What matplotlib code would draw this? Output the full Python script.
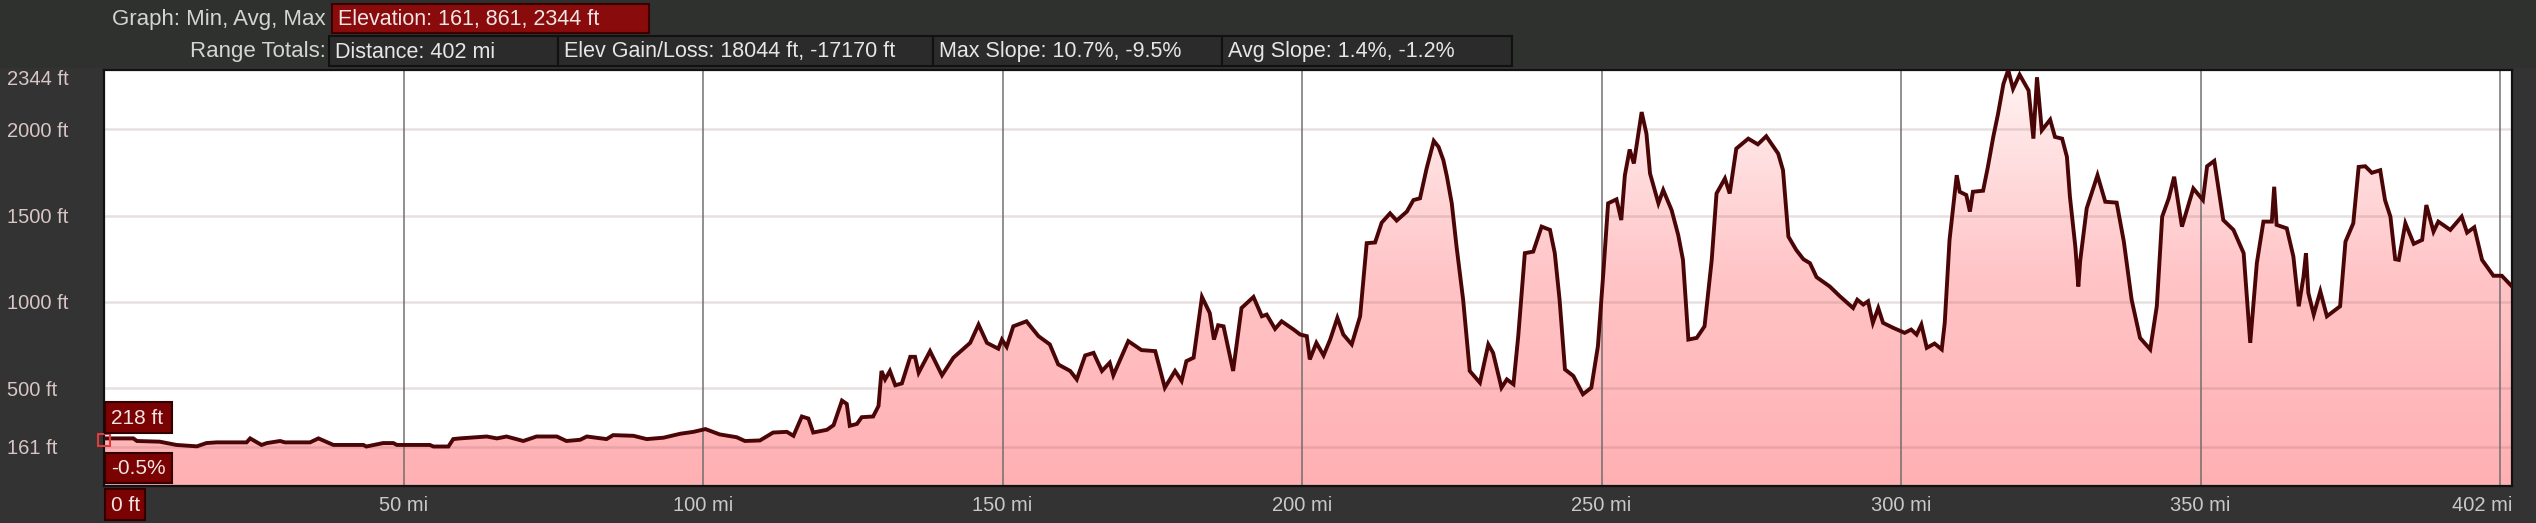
import numpy as np
import matplotlib
matplotlib.use("Agg")
import matplotlib.pyplot as plt
from matplotlib.colors import LinearSegmentedColormap
from matplotlib.patches import Rectangle

plt.rcParams['font.family'] = ['Liberation Sans', 'DejaVu Sans']

# distance along the route (mi) and elevation (ft)
miles = [0, 4.9, 5.5, 9.3, 12.1, 15.5, 17.1, 18.8, 23.8, 24.4, 26.3, 27.2, 29.4, 30.2, 34.4, 35.8,
         38.3, 43.3, 43.8, 46.6, 48.3, 48.9, 54.4, 55.0, 57.5, 58.3, 59.4, 63.9, 65.6, 67.2, 70.0,
         72.2, 75.6, 77.2, 79.5, 80.6,
         83.9, 85.0, 88.4, 90.6, 93.4, 96.2, 98.4, 100.4, 102.8, 105.6, 107.0, 109.5, 111.7, 114.0,
         115.1, 116.5, 117.6, 118.4, 120.7, 121.8, 123.2, 124.0, 124.5, 125.7, 126.5, 128.4, 129.3,
         129.8, 130.4, 131.2, 132.1, 133.2, 134.6, 135.4, 136.0, 137.9, 139.9, 141.8, 144.6, 146.0,
         147.4, 149.3, 149.9, 150.7, 151.8, 154.0, 156.0, 157.9, 159.3,
         161.3, 162.4, 163.8, 165.2, 166.6, 167.9, 168.5, 171.0, 173.2, 175.5,
         177.1, 178.8, 179.9, 180.7, 181.9, 183.3, 184.6, 185.3, 186.0, 186.9,
         188.5, 189.9, 191.9, 193.3, 194.1, 195.5, 196.6, 198.6, 199.7, 200.8,
         201.3, 202.4, 203.6, 204.7, 205.9, 206.9, 208.3, 209.7, 210.8, 212.2,
         213.3, 214.7, 215.8, 217.5, 218.6, 219.7, 220.8, 222.0, 222.8, 223.6,
         224.2, 225.0, 225.8, 226.9, 228.0, 229.7, 231.1, 231.9, 233.3, 234.2,
         235.3, 236.1, 237.2, 238.6, 240.0, 241.4,
         242.2, 243.0, 243.9, 245.3, 246.9, 248.3, 249.4, 250.3, 251.1, 252.5,
         253.3, 253.9, 254.7, 255.4, 256.7, 257.5, 258.1, 259.5, 260.3, 261.7,
         262.8, 263.6, 264.5, 265.9, 267.2, 268.4, 269.2, 270.6, 271.4, 272.5,
         274.5, 276.1, 277.5, 279.5, 280.3, 281.2, 282.5, 283.7, 284.8, 285.9,
         288.1, 289.8, 292.0, 292.7, 293.7, 294.5, 295.3, 296.2, 297.0, 298.7,
         300.6, 301.7, 302.6, 303.4, 304.3, 305.6, 306.8, 307.3, 308.1, 309.3,
         309.8, 310.9, 311.5, 312.0, 313.7, 314.5, 315.4, 316.2, 317.1, 317.9,
         318.7, 319.8,
         321.3, 322.1, 322.7, 323.5, 324.9, 325.7, 326.9, 327.7, 328.2, 329.1,
         329.6, 329.9, 331.0, 332.8, 334.1, 336.0, 337.2, 338.5, 339.9, 341.6,
         342.7, 343.6, 344.7, 345.6, 346.9, 348.8, 350.4, 351.1, 352.3, 353.8,
         355.5, 357.2, 358.3, 359.4, 360.5, 361.9, 362.3, 362.7, 364.4, 365.5,
         366.4, 367.2, 367.6, 368.0, 368.9, 370.0, 371.1, 373.3, 374.2, 375.5,
         376.4, 377.5, 378.6, 380.0, 380.8, 381.7, 382.5, 383.1, 384.2, 385.6,
         387.0, 387.7, 388.9, 389.7, 391.7, 393.6, 394.5, 395.7, 397.0, 398.9,
         400.3, 402.0]

elev = [208, 208, 193, 189, 170, 162, 181, 185, 185, 208, 170, 181, 193, 185, 185, 208,
        170, 170, 161, 181, 181, 170, 170, 161, 161, 204, 208, 219, 208, 219, 193,
        219, 219, 193, 200, 219,
        204, 227, 223, 204, 212, 235, 246, 262, 231, 215, 193, 196, 242, 246,
        223, 335, 323, 242, 258, 285, 427, 408, 281, 292, 331, 335, 396,
        599, 550, 599, 516, 527, 681, 681, 589, 714, 574, 676, 762, 868,
        762, 728, 781, 739, 858, 887, 801, 753, 637,
        599, 550, 689, 704, 599, 647, 574, 772, 720, 714,
        502, 599, 541, 656, 676, 1028, 935, 781, 864, 858,
        599, 964, 1028, 916, 926, 843, 887, 839, 810, 801,
        666, 762, 689, 781, 907, 810, 753, 916, 1340, 1344,
        1459, 1513, 1471, 1523, 1590, 1600, 1773, 1933, 1898, 1821,
        1725, 1571, 1320, 1012, 599, 531, 753, 704, 502, 550,
        522, 801, 1282, 1291, 1436, 1417,
        1282, 1012, 608, 570, 464, 502, 743, 1166, 1571, 1594,
        1474, 1734, 1883, 1802, 2100, 1975, 1744, 1571, 1648, 1532,
        1388, 1243, 781, 791, 858, 1243, 1628, 1715, 1628, 1888,
        1946, 1913, 1960, 1859, 1763, 1378, 1301, 1247, 1224, 1143,
        1089, 1032, 964, 1012, 984, 1003, 878, 964, 878, 849,
        820, 839, 810, 868, 733, 758, 724, 878, 1359, 1734,
        1638, 1619, 1523, 1638, 1644, 1782, 1956, 2090, 2264, 2344,
        2235, 2317,
        2225, 1946, 2302, 1994, 2056, 1956, 1946, 1840, 1609, 1320,
        1089, 1234, 1542, 1734, 1580, 1575, 1349, 1012, 791, 724,
        974, 1494, 1600, 1725, 1436, 1657, 1590, 1786, 1817, 1474,
        1417, 1282, 762, 1224, 1465, 1465, 1667, 1446, 1426, 1263,
        974, 1147, 1282, 1051, 926, 1061, 916, 974, 1349, 1455,
        1782, 1786, 1748, 1763, 1590, 1494, 1247, 1243, 1455, 1336,
        1359, 1561, 1407, 1465, 1417, 1494, 1401, 1432, 1243, 1151,
        1151, 1089]

y_ticks = [161, 500, 1000, 1500, 2000, 2344]
x_ticks = [50, 100, 150, 200, 250, 300, 350, 400]
x_labels = ['50 mi', '100 mi', '150 mi', '200 mi', '250 mi', '300 mi', '350 mi', '']

x = np.array(miles)
y = np.array(elev)
y_min = -68

W, H = 2536, 523
fig = plt.figure(figsize=(W / 100, H / 100), dpi=100, facecolor='#333333')
ax = fig.add_axes([104 / W, 1 - 486 / H, (2512 - 104) / W, (486 - 70) / H])
ax.set_facecolor('white')
ax.set_xlim(0, 402)
ax.set_ylim(y_min, 2344)

# pink gradient fill under the profile
cmap = LinearSegmentedColormap.from_list('fill', ['#ffb0b3', '#ffc4c6', '#fff3f3'])
grad = np.linspace(0, 1, 256).reshape(-1, 1)
im = ax.imshow(grad, extent=[0, 402, y_min, 2344], origin='lower', aspect='auto',
               cmap=cmap, zorder=1)
poly = ax.fill_between(x, y, y_min, facecolor='none', edgecolor='none')
im.set_clip_path(poly.get_paths()[0], transform=ax.transData)

# grid
for v in x_ticks:
    ax.axvline(v, color='#6a6a6a', lw=1.4, alpha=0.75, zorder=2)
for v in y_ticks[:-1]:
    ax.axhline(v, color=(0.55, 0.4, 0.4), lw=1.8, alpha=0.2, zorder=2)

ax.plot(x, y, color='#4a0606', lw=2.8, zorder=3, solid_joinstyle='miter')
ax.plot([x[0]], [y[0] - 12], 's', ms=9, mfc='none', mec='#e03a3a', mew=1.5,
        zorder=4, clip_on=False)

for s in ax.spines.values():
    s.set_color('#111111')
    s.set_linewidth(1.6)

# ticks
ax.set_yticks(y_ticks)
ax.set_yticklabels([f'{v} ft' for v in y_ticks])
ax.tick_params(axis='y', length=0, pad=70, labelsize=14.5, labelcolor='#d8c6c6')
for lab in ax.get_yticklabels():
    lab.set_ha('left')
ax.get_yticklabels()[-1].set_va('top')

ax.set_xticks(x_ticks + [402])
ax.set_xticklabels(x_labels + ['402 mi'])
ax.tick_params(axis='x', length=0, pad=7, labelsize=14.5, labelcolor='#c8c8c8')
ax.get_xticklabels()[-1].set_ha('right')

# overlay in pixel coordinates for the header and cursor boxes
ov = fig.add_axes([0, 0, 1, 1], zorder=10)
ov.set_xlim(0, W)
ov.set_ylim(H, 0)
ov.axis('off')
ov.patch.set_alpha(0)

ov.add_patch(Rectangle((0, 0), W, 68, facecolor='#2e312e', edgecolor='none', zorder=0))


def box(x0, y0, x1, y1, text, fc, tc='#e6e6e6', ec='#111111', size=15.5):
    ov.add_patch(Rectangle((x0, y0), x1 - x0, y1 - y0, facecolor=fc, edgecolor=ec, lw=1.5))
    ov.text(x0 + 6, (y0 + y1) / 2 + 1, text, color=tc, fontsize=size, ha='left', va='center')


ov.text(326, 19, 'Graph: Min, Avg, Max', color='#d4d4d4', fontsize=16, ha='right', va='center')
box(332, 4, 649, 33, 'Elevation: 161, 861, 2344 ft', '#8a0b0b', tc='#f0e6e6', ec='#3a0000')

ov.text(326, 51, 'Range Totals:', color='#d4d4d4', fontsize=16, ha='right', va='center')
box(329, 36, 558, 66, 'Distance: 402 mi', '#2b2b2b')
box(558, 36, 933, 66, 'Elev Gain/Loss: 18044 ft, -17170 ft', '#2b2b2b')
box(933, 36, 1222, 66, 'Max Slope: 10.7%, -9.5%', '#2b2b2b')
box(1222, 36, 1512, 66, 'Avg Slope: 1.4%, -1.2%', '#2b2b2b')

# cursor readouts
box(105, 402, 172, 433, '218 ft', '#7a0202', tc='#f2e4e4', ec='#300000', size=15)
box(105, 453, 172, 483, '-0.5%', '#7a0202', tc='#f2e4e4', ec='#300000', size=15)
box(105, 489, 145, 520, '0 ft', '#7a0202', tc='#f2e4e4', ec='#300000', size=15)

fig.savefig('out.png', dpi=100, facecolor=fig.get_facecolor())
